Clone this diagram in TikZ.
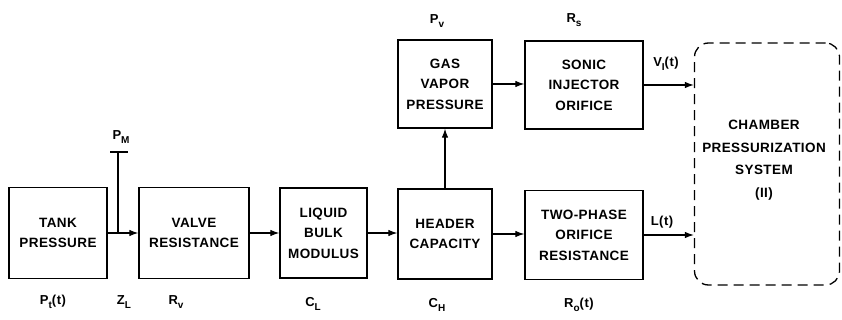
\documentclass[tikz,border=0pt]{standalone}
\usepackage{fontspec}
\setmainfont{Liberation Sans}
\usetikzlibrary{arrows.meta}
\newcommand\boxfont{\bfseries\fontsize{13.5}{20.5}\selectfont\addfontfeature{LetterSpace=3}}
\newcommand\sbs[1]{\raisebox{-0.55ex}{\fontsize{10}{10}\selectfont #1}}
\begin{document}
\begin{tikzpicture}[x=1pt,y=-1pt,
  blk/.style={draw,line width=1.3pt,minimum width=#1,inner sep=0pt,align=center,
    font=\boxfont},
  lbl/.style={font=\bfseries\fontsize{13}{14}\selectfont\addfontfeature{LetterSpace=4},inner sep=0pt},
  arr/.style={line width=1.1pt,-{Latex[length=9pt,width=6.5pt]}}]
\useasboundingbox (0,0) rectangle (842,320);
% bottom row
\node[blk=98pt,minimum height=91pt] (tank) at (58,233) {TANK\\PRESSURE};
\node[blk=110pt,minimum height=91pt] (valve) at (194,233) {VALVE\\RESISTANCE};
\node[blk=87pt,minimum height=90pt] (liquid) at (323.5,233) {LIQUID\\BULK\\MODULUS};
\node[blk=94pt,minimum height=90pt] (header) at (445,234) {HEADER\\CAPACITY};
\node[blk=118pt,minimum height=89pt] (twophase) at (584,235) {TWO-PHASE\\ORIFICE\\RESISTANCE};
% top row
\node[blk=94pt,minimum height=88pt] (gas) at (445,84) {GAS\\VAPOR\\PRESSURE};
\node[blk=118pt,minimum height=88pt] (sonic) at (584,85) {SONIC\\INJECTOR\\ORIFICE};
% chamber
\node[draw,line width=1.3pt,dash pattern=on 10pt off 6pt,rounded corners=14pt,
  minimum width=145pt,minimum height=242pt] (chamber) at (767,164) {};
\node[blk=10pt,draw=none,align=center,font=\boxfont\fontsize{13.5}{22.5}\selectfont] (chtext) at (764,160)
  {CHAMBER\\PRESSURIZATION\\SYSTEM\\(II)};
% connectors
\draw[arr] (tank.east) -- (valve.west);
\draw[arr] (valve.east) -- (liquid.west);
\draw[arr] (liquid.east) -- (liquid.east -| header.west);
\draw[arr] (header.east) -- (header.east -| twophase.west);
\draw[arr] (header.north) -- (gas.south);
\draw[arr] (gas.east) -- (gas.east -| sonic.west);
\draw[arr] (sonic.east) -- (sonic.east -| chamber.west);
\draw[arr] (twophase.east) -- (twophase.east -| chamber.west);
% P_M branch
\coordinate (pm) at (118,152);
\coordinate (pml) at (110,152);
\coordinate (pmr) at (128,152);
\draw[line width=1.1pt] (pml) -- (pmr);
\draw[line width=1.1pt] (pm) -- (pm |- tank.east);
\node[lbl] (lpm) at (121,137) {P\sbs{M}};
% labels
\node[lbl] (lpt) at (53,302) {P\sbs{t}(t)};
\node[lbl] (lzl) at (124,302) {Z\sbs{L}};
\node[lbl] (lrv) at (176,302) {R\sbs{v}};
\node[lbl] (lcl) at (313,304) {C\sbs{L}};
\node[lbl] (lch) at (437,305) {C\sbs{H}};
\node[lbl] (lro) at (579,305) {R\sbs{o}(t)};
\node[lbl] (lpv) at (437,21) {P\sbs{v}};
\node[lbl] (lrs) at (574,20) {R\sbs{s}};
\node[lbl] (lvi) at (666,64) {V\sbs{I}(t)};
\node[lbl] (llt) at (662,222) {L(t)};
\end{tikzpicture}
\end{document}
